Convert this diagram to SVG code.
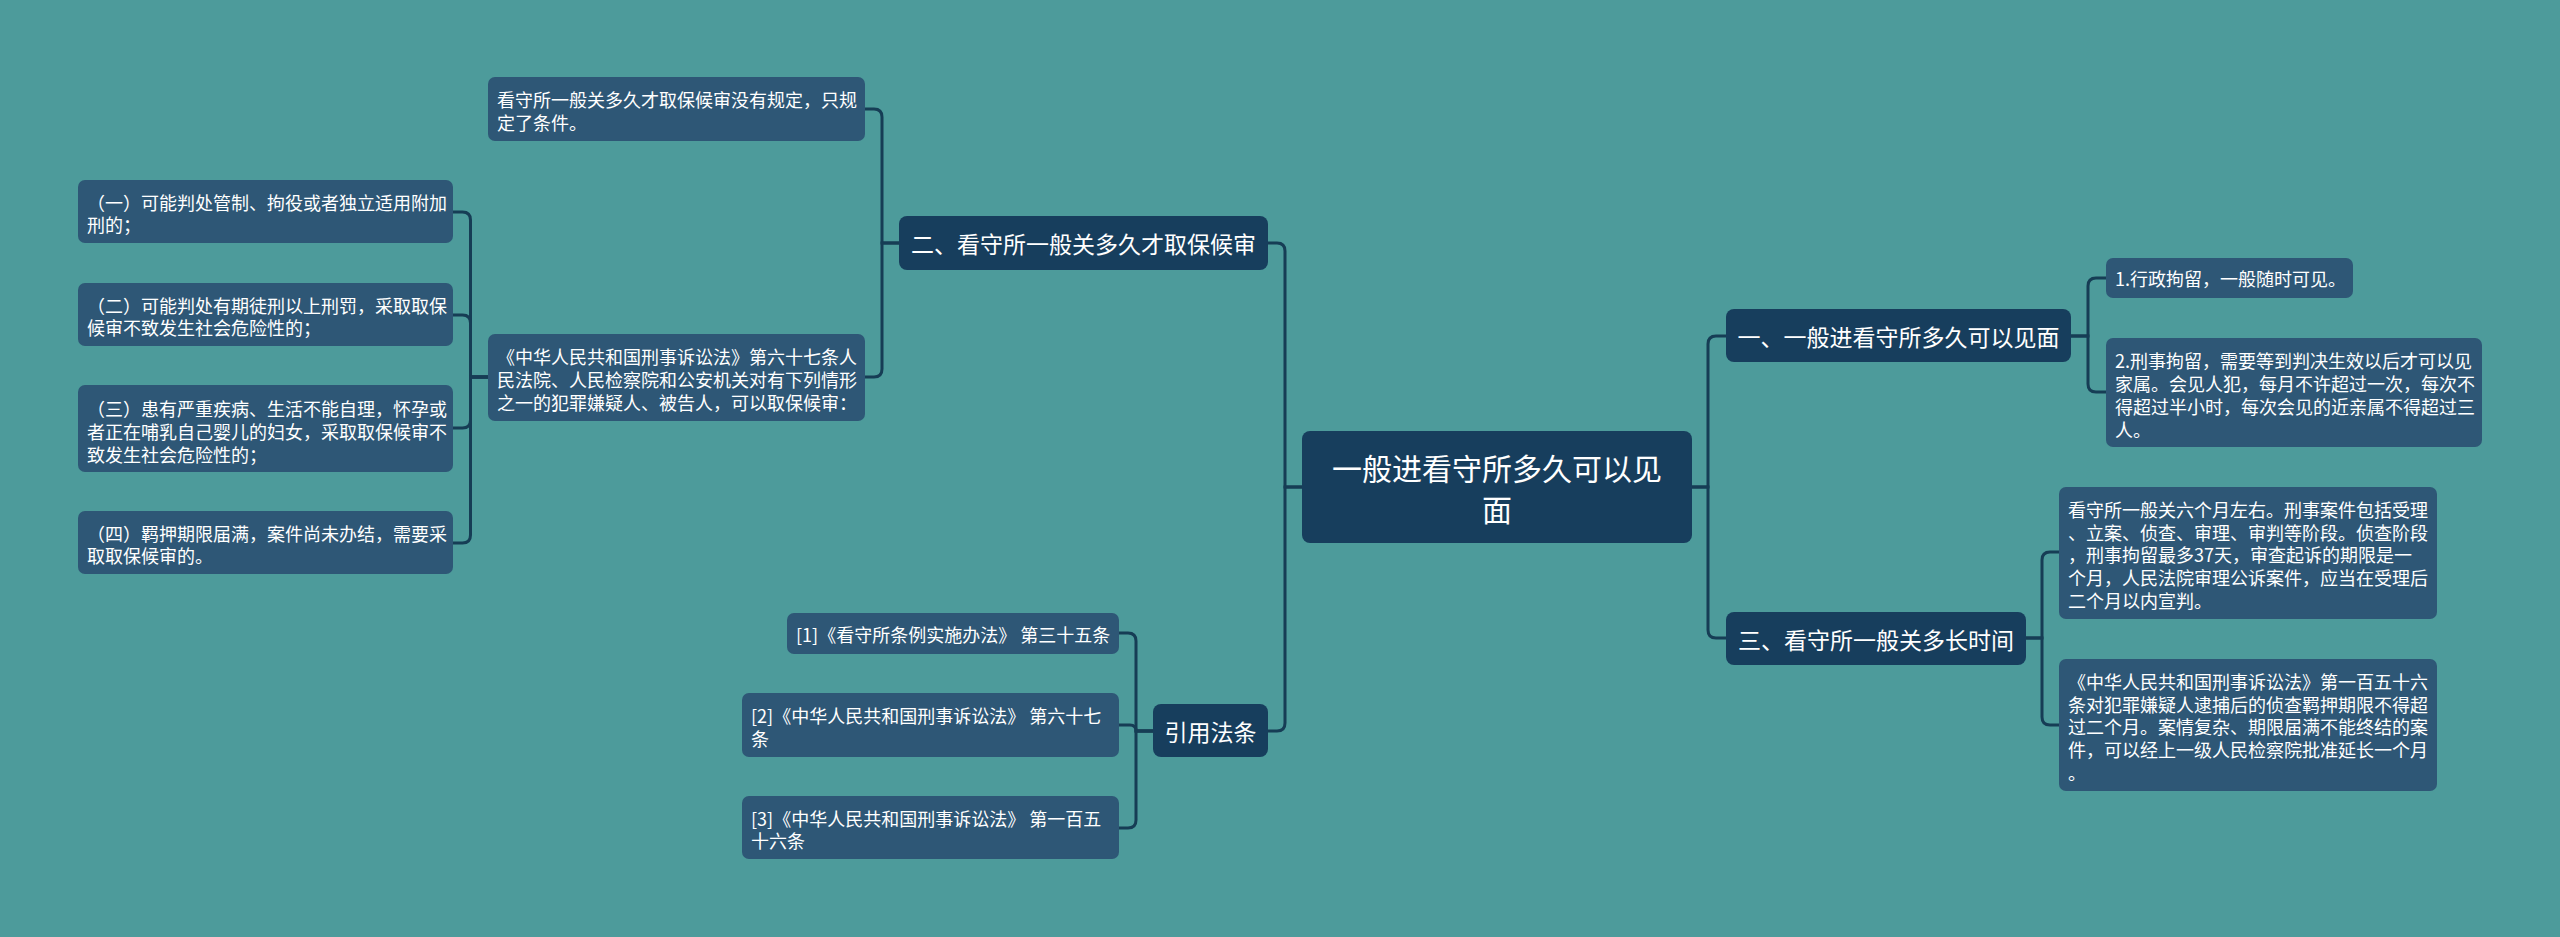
<svg xmlns="http://www.w3.org/2000/svg" width="2560" height="937" viewBox="0 0 2560 937">
<style>
.bg{fill:#4d9b9b}
.leaf{fill:#2e5776}
.main{fill:#173e5d}
.t{fill:#ffffff;font-family:"Noto Sans CJK SC","Microsoft YaHei",sans-serif;dominant-baseline:central}
.s{font-size:18px}
.m{font-size:23px}
.r{font-size:30px}
.c{fill:none;stroke:#163d55;stroke-width:3}
</style>
<rect class="bg" x="0" y="0" width="2560" height="937"/>
<g id="connectors">
<path class="c" d="M1302 487H1285V251Q1285 243 1277 243H1268"/>
<path class="c" d="M1302 487H1285V723Q1285 731 1277 731H1268"/>
<path class="c" d="M1692 487H1708V344Q1708 336 1716 336H1726"/>
<path class="c" d="M1692 487H1708V630Q1708 638 1716 638H1726"/>
<path class="c" d="M899 243H882V117Q882 109 874 109H865"/>
<path class="c" d="M899 243H882V369Q882 377 874 377H865"/>
<path class="c" d="M488 377H470.5V220Q470.5 212 462.5 212H453"/>
<path class="c" d="M488 377H470.5V323Q470.5 315 462.5 315H453"/>
<path class="c" d="M488 377H470.5V420Q470.5 428 462.5 428H453"/>
<path class="c" d="M488 377H470.5V535Q470.5 543 462.5 543H453"/>
<path class="c" d="M2071 336H2088V286Q2088 278 2096 278H2106"/>
<path class="c" d="M2071 336H2088V384Q2088 392 2096 392H2106"/>
<path class="c" d="M2026 638H2042V560Q2042 552 2050 552H2059"/>
<path class="c" d="M2026 638H2042V717Q2042 725 2050 725H2059"/>
<path class="c" d="M1153 731H1136V641Q1136 633 1128 633H1119"/>
<path class="c" d="M1153 731H1136Q1136 725 1130 725H1119"/>
<path class="c" d="M1153 731H1136V820Q1136 828 1128 828H1119"/>
</g>
<g id="root">
<rect class="main" x="1302" y="431" width="390" height="112" rx="8"/>
<text class="t r" x="1497" y="467" text-anchor="middle">一般进看守所多久可以见</text>
<text class="t r" x="1497" y="508" text-anchor="middle">面</text>
</g>
<g id="n2">
<rect class="main" x="899" y="216" width="369" height="54" rx="8"/>
<text class="t m" x="1083.5" y="243" text-anchor="middle">二、看守所一般关多久才取保候审</text>
</g>
<g id="n1">
<rect class="main" x="1726" y="309" width="345" height="53" rx="8"/>
<text class="t m" x="1898.5" y="335.5" text-anchor="middle">一、一般进看守所多久可以见面</text>
</g>
<g id="n3">
<rect class="main" x="1726" y="612" width="300" height="53" rx="8"/>
<text class="t m" x="1876" y="638.5" text-anchor="middle">三、看守所一般关多长时间</text>
</g>
<g id="ncite">
<rect class="main" x="1153" y="704" width="115" height="53" rx="8"/>
<text class="t m" x="1210.5" y="730.5" text-anchor="middle">引用法条</text>
</g>
<g id="t1">
<rect class="leaf" x="488" y="77" width="377" height="64" rx="7"/>
<text class="t s" x="497" y="99">看守所一般关多久才取保候审没有规定，只规</text>
<text class="t s" x="497" y="122">定了条件。</text>
</g>
<g id="t2">
<rect class="leaf" x="488" y="334" width="377" height="87" rx="7"/>
<text class="t s" x="497" y="356">《中华人民共和国刑事诉讼法》第六十七条人</text>
<text class="t s" x="497" y="379">民法院、人民检察院和公安机关对有下列情形</text>
<text class="t s" x="497" y="402">之一的犯罪嫌疑人、被告人，可以取保候审：</text>
</g>
<g id="l1">
<rect class="leaf" x="78" y="180" width="375" height="63" rx="7"/>
<text class="t s" x="87" y="202">（一）可能判处管制、拘役或者独立适用附加</text>
<text class="t s" x="87" y="224">刑的；</text>
</g>
<g id="l2">
<rect class="leaf" x="78" y="283" width="375" height="63" rx="7"/>
<text class="t s" x="87" y="305">（二）可能判处有期徒刑以上刑罚，采取取保</text>
<text class="t s" x="87" y="327">候审不致发生社会危险性的；</text>
</g>
<g id="l3">
<rect class="leaf" x="78" y="385" width="375" height="87" rx="7"/>
<text class="t s" x="87" y="408">（三）患有严重疾病、生活不能自理，怀孕或</text>
<text class="t s" x="87" y="431">者正在哺乳自己婴儿的妇女，采取取保候审不</text>
<text class="t s" x="87" y="454">致发生社会危险性的；</text>
</g>
<g id="l4">
<rect class="leaf" x="78" y="511" width="375" height="63" rx="7"/>
<text class="t s" x="87" y="533">（四）羁押期限届满，案件尚未办结，需要采</text>
<text class="t s" x="87" y="555">取取保候审的。</text>
</g>
<g id="c1">
<rect class="leaf" x="787" y="613" width="332" height="41" rx="7"/>
<text class="t s" x="796" y="633.5">[1]《看守所条例实施办法》 第三十五条</text>
</g>
<g id="c2">
<rect class="leaf" x="742" y="693" width="377" height="64" rx="7"/>
<text class="t s" x="751" y="715">[2]《中华人民共和国刑事诉讼法》 第六十七</text>
<text class="t s" x="751" y="738">条</text>
</g>
<g id="c3">
<rect class="leaf" x="742" y="796" width="377" height="63" rx="7"/>
<text class="t s" x="751" y="818">[3]《中华人民共和国刑事诉讼法》 第一百五</text>
<text class="t s" x="751" y="840">十六条</text>
</g>
<g id="r1">
<rect class="leaf" x="2106" y="258" width="247" height="40" rx="7"/>
<text class="t s" x="2115" y="278">1.行政拘留，一般随时可见。</text>
</g>
<g id="r2">
<rect class="leaf" x="2106" y="338" width="376" height="109" rx="7"/>
<text class="t s" x="2115" y="360">2.刑事拘留，需要等到判决生效以后才可以见</text>
<text class="t s" x="2115" y="383">家属。会见人犯，每月不许超过一次，每次不</text>
<text class="t s" x="2115" y="406">得超过半小时，每次会见的近亲属不得超过三</text>
<text class="t s" x="2115" y="429">人。</text>
</g>
<g id="r3">
<rect class="leaf" x="2059" y="487" width="378" height="132" rx="7"/>
<text class="t s" x="2068" y="509">看守所一般关六个月左右。刑事案件包括受理</text>
<text class="t s" x="2068" y="532">、立案、侦查、审理、审判等阶段。侦查阶段</text>
<text class="t s" x="2068" y="554">，刑事拘留最多37天，审查起诉的期限是一</text>
<text class="t s" x="2068" y="577">个月，人民法院审理公诉案件，应当在受理后</text>
<text class="t s" x="2068" y="600">二个月以内宣判。</text>
</g>
<g id="r4">
<rect class="leaf" x="2059" y="659" width="378" height="132" rx="7"/>
<text class="t s" x="2068" y="681">《中华人民共和国刑事诉讼法》第一百五十六</text>
<text class="t s" x="2068" y="704">条对犯罪嫌疑人逮捕后的侦查羁押期限不得超</text>
<text class="t s" x="2068" y="726">过二个月。案情复杂、期限届满不能终结的案</text>
<text class="t s" x="2068" y="749">件，可以经上一级人民检察院批准延长一个月</text>
<text class="t s" x="2068" y="772">。</text>
</g>
</svg>
